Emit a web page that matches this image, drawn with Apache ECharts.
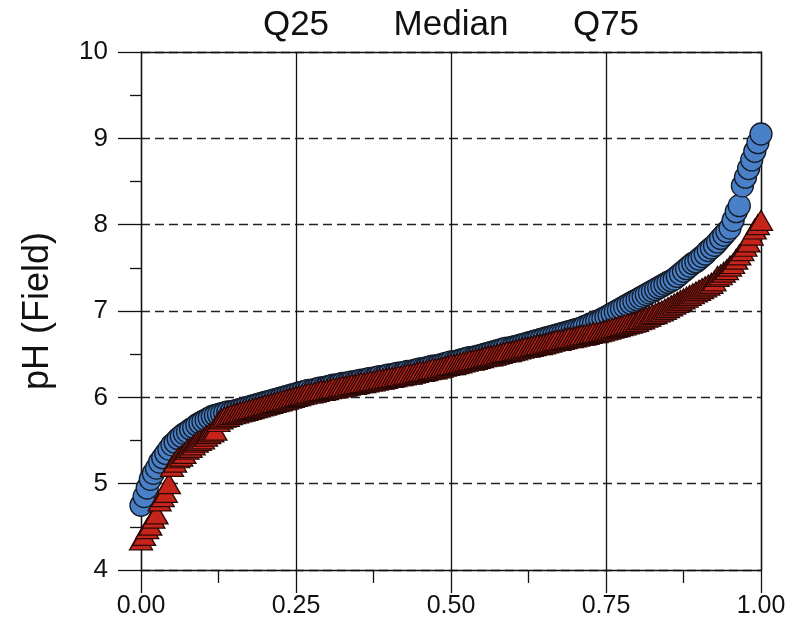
<!DOCTYPE html>
<html>
<head>
<meta charset="utf-8">
<script src="https://cdn.jsdelivr.net/npm/echarts@6/dist/echarts.min.js"></script>
<style>
  html, body { margin: 0; padding: 0; background: #fff; }
  #chart { width: 800px; height: 629px; }
</style>
</head>
<body>
<div id="chart"></div>
<script>
// plotting positions (cumulative probability), one row = 0.05
const probs = [
  0.000, 0.005, 0.010, 0.015, 0.020, 0.025, 0.030, 0.035, 0.040, 0.045,
  0.050, 0.055, 0.060, 0.065, 0.070, 0.075, 0.080, 0.085, 0.090, 0.095,
  0.100, 0.105, 0.110, 0.115, 0.120, 0.125, 0.130, 0.135, 0.140, 0.145,
  0.150, 0.155, 0.160, 0.165, 0.170, 0.175, 0.180, 0.185, 0.190, 0.195,
  0.200, 0.205, 0.210, 0.215, 0.220, 0.225, 0.230, 0.235, 0.240, 0.245,
  0.250, 0.255, 0.260, 0.265, 0.270, 0.275, 0.280, 0.285, 0.290, 0.295,
  0.300, 0.305, 0.310, 0.315, 0.320, 0.325, 0.330, 0.335, 0.340, 0.345,
  0.350, 0.355, 0.360, 0.365, 0.370, 0.375, 0.380, 0.385, 0.390, 0.395,
  0.400, 0.405, 0.410, 0.415, 0.420, 0.425, 0.430, 0.435, 0.440, 0.445,
  0.450, 0.455, 0.460, 0.465, 0.470, 0.475, 0.480, 0.485, 0.490, 0.495,
  0.500, 0.505, 0.510, 0.515, 0.520, 0.525, 0.530, 0.535, 0.540, 0.545,
  0.550, 0.555, 0.560, 0.565, 0.570, 0.575, 0.580, 0.585, 0.590, 0.595,
  0.600, 0.605, 0.610, 0.615, 0.620, 0.625, 0.630, 0.635, 0.640, 0.645,
  0.650, 0.655, 0.660, 0.665, 0.670, 0.675, 0.680, 0.685, 0.690, 0.695,
  0.700, 0.705, 0.710, 0.715, 0.720, 0.725, 0.730, 0.735, 0.740, 0.745,
  0.750, 0.755, 0.760, 0.765, 0.770, 0.775, 0.780, 0.785, 0.790, 0.795,
  0.800, 0.805, 0.810, 0.815, 0.820, 0.825, 0.830, 0.835, 0.840, 0.845,
  0.850, 0.855, 0.860, 0.865, 0.870, 0.875, 0.880, 0.885, 0.890, 0.895,
  0.900, 0.905, 0.910, 0.915, 0.920, 0.925, 0.930, 0.935, 0.940, 0.945,
  0.950, 0.955, 0.960, 0.965, 0.970, 0.975, 0.980, 0.985, 0.990, 0.995,
  1.000
];

// pH, blue circles
const phCircle = [
  4.75, 4.85, 4.95, 5.05, 5.12, 5.18, 5.25, 5.30, 5.35, 5.40,
  5.45, 5.48, 5.52, 5.55, 5.58, 5.60, 5.63, 5.65, 5.68, 5.70,
  5.72, 5.74, 5.76, 5.78, 5.79, 5.80, 5.81, 5.82, 5.83, 5.83,
  5.84, 5.85, 5.86, 5.87, 5.88, 5.89, 5.90, 5.91, 5.92, 5.93,
  5.94, 5.95, 5.96, 5.97, 5.98, 5.99, 6.00, 6.01, 6.02, 6.03,
  6.04, 6.05, 6.06, 6.07, 6.08, 6.08, 6.09, 6.10, 6.11, 6.11,
  6.12, 6.13, 6.14, 6.14, 6.15, 6.16, 6.16, 6.17, 6.18, 6.18,
  6.19, 6.20, 6.20, 6.21, 6.22, 6.22, 6.23, 6.24, 6.24, 6.25,
  6.26, 6.26, 6.27, 6.28, 6.28, 6.29, 6.30, 6.30, 6.31, 6.32,
  6.33, 6.33, 6.34, 6.35, 6.36, 6.36, 6.37, 6.38, 6.39, 6.40,
  6.41, 6.41, 6.42, 6.43, 6.44, 6.45, 6.46, 6.46, 6.47, 6.48,
  6.49, 6.50, 6.51, 6.52, 6.53, 6.54, 6.55, 6.56, 6.57, 6.57,
  6.58, 6.59, 6.60, 6.61, 6.62, 6.63, 6.64, 6.65, 6.66, 6.67,
  6.68, 6.69, 6.70, 6.71, 6.72, 6.73, 6.74, 6.75, 6.76, 6.77,
  6.78, 6.79, 6.80, 6.82, 6.83, 6.85, 6.86, 6.88, 6.89, 6.91,
  6.93, 6.95, 6.97, 6.99, 7.01, 7.03, 7.05, 7.07, 7.09, 7.11,
  7.13, 7.15, 7.17, 7.19, 7.21, 7.23, 7.25, 7.27, 7.29, 7.31,
  7.33, 7.35, 7.37, 7.40, 7.43, 7.46, 7.49, 7.52, 7.55, 7.57,
  7.60, 7.63, 7.66, 7.70, 7.73, 7.76, 7.80, 7.84, 7.88, 7.92,
  7.96, 8.05, 8.15, 8.22, 8.45, 8.55, 8.65, 8.75, 8.85, 8.95,
  9.05
];

// pH, red triangles
const phTriangle = [
  4.35, 4.40, 4.48, 4.52, 4.60, 4.65, 4.80, 4.85, 4.90, 5.00,
  5.20, 5.25, 5.30, 5.32, 5.35, 5.40, 5.42, 5.45, 5.48, 5.50,
  5.52, 5.55, 5.58, 5.60, 5.62, 5.72, 5.75, 5.77, 5.78, 5.80,
  5.81, 5.82, 5.83, 5.84, 5.85, 5.86, 5.87, 5.88, 5.89, 5.90,
  5.91, 5.92, 5.93, 5.94, 5.95, 5.96, 5.97, 5.98, 5.99, 6.00,
  6.01, 6.02, 6.03, 6.04, 6.05, 6.05, 6.06, 6.07, 6.08, 6.08,
  6.09, 6.10, 6.11, 6.11, 6.12, 6.13, 6.13, 6.14, 6.15, 6.15,
  6.16, 6.17, 6.17, 6.18, 6.19, 6.19, 6.20, 6.21, 6.21, 6.22,
  6.23, 6.23, 6.24, 6.25, 6.25, 6.26, 6.27, 6.27, 6.28, 6.29,
  6.30, 6.30, 6.31, 6.32, 6.33, 6.33, 6.34, 6.35, 6.36, 6.37,
  6.38, 6.38, 6.39, 6.40, 6.41, 6.42, 6.43, 6.43, 6.44, 6.45,
  6.46, 6.47, 6.48, 6.48, 6.49, 6.50, 6.51, 6.52, 6.53, 6.53,
  6.54, 6.55, 6.56, 6.57, 6.58, 6.58, 6.59, 6.60, 6.61, 6.61,
  6.62, 6.63, 6.64, 6.65, 6.66, 6.66, 6.67, 6.68, 6.69, 6.69,
  6.70, 6.71, 6.72, 6.72, 6.73, 6.74, 6.75, 6.75, 6.76, 6.77,
  6.78, 6.79, 6.80, 6.81, 6.82, 6.83, 6.84, 6.85, 6.86, 6.87,
  6.88, 6.90, 6.91, 6.93, 6.94, 6.96, 6.97, 6.99, 7.00, 7.02,
  7.04, 7.06, 7.08, 7.10, 7.12, 7.14, 7.16, 7.18, 7.20, 7.22,
  7.24, 7.26, 7.28, 7.30, 7.32, 7.35, 7.40, 7.42, 7.45, 7.48,
  7.52, 7.55, 7.60, 7.65, 7.70, 7.75, 7.80, 7.88, 7.95, 8.00,
  8.05
];

const topTickPos = [0.25, 0.5, 0.75];
const topTickText = ['Q25', 'Median', 'Q75'];

const font = 'Liberation Sans, Arial, sans-serif';
const ink = '#111';

function pairs(ys) {
  return probs.map((p, i) => [p, ys[i]]);
}

const chart = echarts.init(document.getElementById('chart'));
chart.setOption({
  animation: false,
  backgroundColor: '#fff',
  grid: { left: 141, right: 39, top: 52, bottom: 59 },
  xAxis: [{
    type: 'value',
    position: 'bottom',
    min: 0, max: 1, interval: 0.25,
    axisLine: { show: true, onZero: false, lineStyle: { color: ink, width: 1.3 } },
    axisTick: { show: true, inside: false, length: 23, lineStyle: { color: ink, width: 1.3 } },
    minorTick: { show: true, splitNumber: 2, length: 13, lineStyle: { color: ink, width: 1.3 } },
    axisLabel: {
      color: ink, fontFamily: font, fontSize: 25, margin: 24,
      formatter: v => v.toFixed(2)
    },
    splitLine: { show: true, lineStyle: { color: ink, width: 1.3, type: 'solid' } }
  }, {
    type: 'value',
    position: 'top',
    min: 0, max: 1, interval: 0.25,
    axisLine: { show: true, onZero: false, lineStyle: { color: ink, width: 1.3 } },
    axisTick: { show: false },
    axisLabel: {
      color: ink, fontFamily: font, fontSize: 35, margin: 9,
      formatter: v => {
        const k = topTickPos.findIndex(p => Math.abs(p - v) < 1e-6);
        return k >= 0 ? topTickText[k] : '';
      }
    },
    splitLine: { show: false }
  }],
  yAxis: [{
    type: 'value',
    min: 4, max: 10, interval: 1,
    name: 'pH (Field)',
    nameLocation: 'middle',
    nameGap: 85,
    nameTextStyle: { color: ink, fontFamily: font, fontSize: 36 },
    axisLine: { show: true, onZero: false, lineStyle: { color: ink, width: 1.3 } },
    axisTick: { show: true, inside: false, length: 23, lineStyle: { color: ink, width: 1.3 } },
    minorTick: { show: true, splitNumber: 2, length: 11, lineStyle: { color: ink, width: 1.3 } },
    axisLabel: { color: ink, fontFamily: font, fontSize: 26, margin: 33 },
    splitLine: { show: true, lineStyle: { color: '#222', width: 1.3, type: [9, 5] } }
  }, {
    type: 'value',
    position: 'right',
    min: 4, max: 10,
    axisLine: { show: true, onZero: false, lineStyle: { color: ink, width: 1.3 } },
    axisTick: { show: false },
    axisLabel: { show: false },
    splitLine: { show: false }
  }],
  series: [{
    name: 'circles',
    type: 'scatter',
    clip: false,
    symbol: 'circle',
    symbolSize: 22,
    itemStyle: { color: '#4a80c8', borderColor: '#141c28', borderWidth: 1.3, opacity: 1 },
    data: pairs(phCircle)
  }, {
    name: 'triangles',
    type: 'scatter',
    clip: false,
    symbol: 'triangle',
    symbolSize: [23, 20],
    itemStyle: { color: '#c4241a', borderColor: '#2a0806', borderWidth: 1.3, opacity: 1 },
    data: pairs(phTriangle)
  }]
});
</script>
</body>
</html>
